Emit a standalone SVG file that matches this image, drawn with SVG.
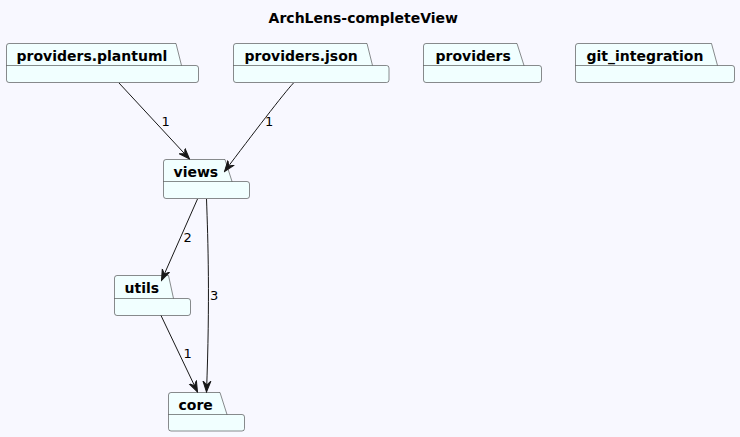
<svg xmlns="http://www.w3.org/2000/svg" width="740" height="437" viewBox="0 0 740 437">
<defs>
<style>
.pkg{fill:#F1FFFF;stroke:#181818;stroke-width:0.5}
.nm{font-family:"DejaVu Sans",sans-serif;font-weight:bold;font-size:14px;fill:#000}
.edge{fill:none;stroke:#181818;stroke-width:1}
.lbl{font-family:"DejaVu Sans",sans-serif;font-size:13px;fill:#000}
</style>
<marker id="arr" viewBox="0 0 12 10" refX="11" refY="5" markerWidth="12" markerHeight="10" markerUnits="userSpaceOnUse" orient="auto">
<path d="M0,1 L11,5 L0,9 L4,5 Z" fill="#181818" stroke="#181818" stroke-width="1"/>
</marker>
</defs>
<rect width="740" height="437" fill="#F8F8FF"/>
<text x="363.3" y="22.5" text-anchor="middle" class="nm">ArchLens-completeView</text>

<g id="providers.plantuml">
<path class="pkg" d="M6.5,46 Q6.5,43.5 9,43.5 L176,43.5 L181.5,65.5 L196,65.5 Q198.5,65.5 198.5,68 L198.5,80 Q198.5,82.5 196,82.5 L9,82.5 Q6.5,82.5 6.5,80 Z"/>
<line class="pkg" x1="6.5" y1="65.5" x2="181.5" y2="65.5"/>
<text class="nm" x="16.5" y="60.5">providers.plantuml</text>
</g>
<g id="providers.json">
<path class="pkg" d="M233.5,46 Q233.5,43.5 236,43.5 L367,43.5 L372.5,65.5 L386.5,65.5 Q389,65.5 389,68 L389,80 Q389,82.5 386.5,82.5 L236,82.5 Q233.5,82.5 233.5,80 Z"/>
<line class="pkg" x1="233.5" y1="65.5" x2="372.5" y2="65.5"/>
<text class="nm" x="244.5" y="60.5">providers.json</text>
</g>
<g id="providers">
<path class="pkg" d="M423.5,46 Q423.5,43.5 426,43.5 L517,43.5 L524,65.5 L539,65.5 Q541.5,65.5 541.5,68 L541.5,80 Q541.5,82.5 539,82.5 L426,82.5 Q423.5,82.5 423.5,80 Z"/>
<line class="pkg" x1="423.5" y1="65.5" x2="524" y2="65.5"/>
<text class="nm" x="435.5" y="60.5">providers</text>
</g>
<g id="git_integration">
<path class="pkg" d="M575.5,46 Q575.5,43.5 578,43.5 L711.5,43.5 L717.5,65.5 L732,65.5 Q734.5,65.5 734.5,68 L734.5,80 Q734.5,82.5 732,82.5 L578,82.5 Q575.5,82.5 575.5,80 Z"/>
<line class="pkg" x1="575.5" y1="65.5" x2="717.5" y2="65.5"/>
<text class="nm" x="586.5" y="60.5">git_integration</text>
</g>
<g id="views">
<path class="pkg" d="M163.5,162 Q163.5,159.5 166,159.5 L225,159.5 L232,181.5 L247,181.5 Q249.5,181.5 249.5,184 L249.5,196 Q249.5,198.5 247,198.5 L166,198.5 Q163.5,198.5 163.5,196 Z"/>
<line class="pkg" x1="163.5" y1="181.5" x2="232" y2="181.5"/>
<text class="nm" x="173.5" y="176.5">views</text>
</g>
<g id="utils">
<path class="pkg" d="M114.5,278 Q114.5,275.5 117,275.5 L168.5,275.5 L173.5,298.5 L188,298.5 Q190.5,298.5 190.5,301 L190.5,313 Q190.5,315.5 188,315.5 L117,315.5 Q114.5,315.5 114.5,313 Z"/>
<line class="pkg" x1="114.5" y1="298.5" x2="173.5" y2="298.5"/>
<text class="nm" x="124.5" y="292.5">utils</text>
</g>
<g id="core">
<path class="pkg" d="M168.5,395 Q168.5,392.5 171,392.5 L220,392.5 L227,414.5 L242,414.5 Q244.5,414.5 244.5,417 L244.5,428.5 Q244.5,431 242,431 L171,431 Q168.5,431 168.5,428.5 Z"/>
<line class="pkg" x1="168.5" y1="414.5" x2="227" y2="414.5"/>
<text class="nm" x="178.5" y="409.5">core</text>
</g>

<g id="connectors">
<path class="edge" marker-end="url(#arr)" d="M119,83 L189.5,159"/>
<text class="lbl" x="161.5" y="126">1</text>
<path class="edge" marker-end="url(#arr)" d="M293.5,83 C284,93 252,135 224.5,171.5"/>
<text class="lbl" x="265" y="126">1</text>
<path class="edge" marker-end="url(#arr)" d="M197.5,199 L161.5,280.5"/>
<text class="lbl" x="183.5" y="242">2</text>
<path class="edge" marker-end="url(#arr)" d="M206.5,199 C208,240 210,300 206.5,392"/>
<text class="lbl" x="210" y="300">3</text>
<path class="edge" marker-end="url(#arr)" d="M161,315.5 L197.5,392"/>
<text class="lbl" x="183.5" y="358">1</text>
</g>
</svg>
